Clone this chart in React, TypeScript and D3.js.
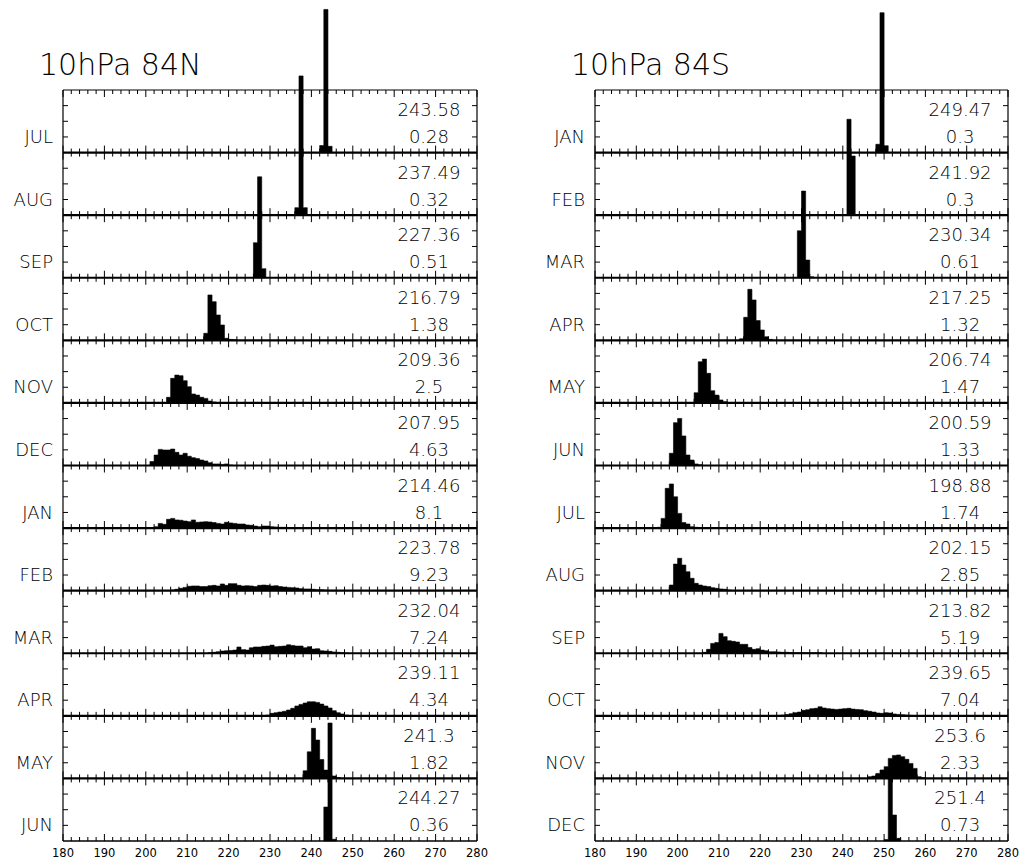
import React from "react";
import * as d3 from "d3";

// ---------------- DATA ----------------
const nhTitle = "10hPa 84N";
const shTitle = "10hPa 84S";
const nhMonths = ["JUL", "AUG", "SEP", "OCT", "NOV", "DEC", "JAN", "FEB", "MAR", "APR", "MAY", "JUN"];
const shMonths = ["JAN", "FEB", "MAR", "APR", "MAY", "JUN", "JUL", "AUG", "SEP", "OCT", "NOV", "DEC"];
const nhMeans = ["243.58", "237.49", "227.36", "216.79", "209.36", "207.95", "214.46", "223.78", "232.04", "239.11", "241.3", "244.27"];
const nhStds = ["0.28", "0.32", "0.51", "1.38", "2.5", "4.63", "8.1", "9.23", "7.24", "4.34", "1.82", "0.36"];
const shMeans = ["249.47", "241.92", "230.34", "217.25", "206.74", "200.59", "198.88", "202.15", "213.82", "239.65", "253.6", "251.4"];
const shStds = ["0.3", "0.3", "0.61", "1.32", "1.47", "1.33", "1.74", "2.85", "5.19", "7.04", "2.33", "0.73"];
const xTickLabels = [180, 190, 200, 210, 220, 230, 240, 250, 260, 270, 280];

// histograms: [first bin (K), frequencies in % for consecutive 1 K bins]
const nhHist: [number, number[]][] = [
  [242, [4.5, 91.5, 4]],
  [236, [4.8, 89, 4.8]],
  [226, [22.4, 64.5, 5.8]],
  [214, [4.5, 29, 24.7, 16.2, 9.8, 1.3, 0.6, 0.3]],
  [205, [3.6, 15.7, 17.8, 17.4, 14.2, 10.4, 5.7, 5, 3.6, 2.9, 1.2, 0.6, 0.3]],
  [201, [2.5, 6.7, 10.3, 9.9, 9.9, 10.5, 8.4, 6.7, 7.8, 5.9, 5, 4.4, 3.5, 2.9, 1.8, 1, 1, 0.7, 1, 0.3]],
  [202, [0.9, 3, 2.4, 5.6, 6.2, 5.2, 5, 4.5, 4.1, 5.2, 3.7, 3.9, 4.1, 3.9, 3.5, 3, 2.6, 3.7, 3.3, 3, 2.6, 2.6, 2, 1.8, 1.3, 0.9, 1.3, 1.3, 0.9, 0.7, 0.5, 0.5, 0.3, 0.3, 0.2, 0.2]],
  [206, [0.4, 0.9, 1.5, 2.1, 2.8, 3, 3, 2.6, 2.6, 3.2, 3.4, 3, 4.3, 3.4, 4.5, 4.5, 3.4, 3, 3.2, 3, 2.6, 3.4, 3.6, 3.4, 3, 3.2, 2.6, 2.3, 2.1, 1.9, 1.7, 1.3, 1.1, 1.1, 0.9, 0.6, 0.6, 0.4, 0.2, 0.2]],
  [215, [0.3, 0.6, 1, 1.4, 1.6, 1.8, 2, 4, 2.3, 2, 3.5, 4, 4, 4.4, 4.6, 5.2, 4.2, 4.4, 4.6, 5.4, 5, 4.6, 4.6, 3.5, 4.2, 2.7, 2.9, 1.6, 1.4, 1.2, 0.8, 0.6, 0.3, 0.1]],
  [229, [0.5, 1.6, 2, 2.4, 2.9, 3.7, 4.8, 6.3, 7.3, 8.2, 9, 9, 8.6, 7.5, 6.3, 5, 3.3, 2, 1.2, 0.5, 0.2]],
  [238, [4.9, 17, 32, 24.5, 12.1, 5.3, 2, 1.5, 0.6]],
  [243, [21.7, 75.4, 1.1]],
];
const shHist: [number, number[]][] = [
  [248, [5.3, 89.4, 4.4]],
  [241, [61.3, 37.8]],
  [229, [30, 55.4, 11.3, 0.6]],
  [215, [1, 14.7, 32.6, 25.8, 12.6, 6.6, 2.3, 0.6]],
  [204, [6.5, 26.3, 28, 18.9, 7.8, 5, 1.9, 0.8]],
  [198, [7.8, 27.4, 30.1, 18.9, 6.7, 3.5, 1, 0.5]],
  [195, [0.5, 6.2, 25.4, 28.2, 20, 9.4, 3.5, 2.6, 0.9, 0.5, 0.3]],
  [198, [3.6, 17, 20.7, 16.4, 12.1, 7.9, 4.7, 3.6, 3, 2.6, 1.9, 1.5, 1.1, 0.9, 0.4]],
  [206, [0.6, 2.5, 6.3, 6.9, 12.7, 10.6, 8, 7.6, 7.2, 5.7, 5.7, 3.7, 2.5, 2.9, 2, 1.6, 1, 1, 0.8, 0.6, 0.6, 0.4, 0.3, 0.3, 0.3, 0.3, 0.3, 0.3, 0.3]],
  [224, [0.3, 0.5, 0.9, 1.4, 2, 2.4, 3.5, 3.9, 4.6, 4.8, 5.8, 5, 4.6, 4.3, 4.1, 4.3, 4.6, 4.8, 4.3, 4.1, 3.9, 3.3, 2.9, 2.4, 1.8, 1.6, 2, 1.8, 1.2, 0.9, 0.7, 0.5, 0.3, 0.2]],
  [246, [1.1, 1.5, 3.2, 5.4, 7.5, 12.8, 14.7, 15, 13.9, 12.2, 9.6, 6.4, 1.1, 0.5]],
  [250, [1, 46, 16.6, 1.7]],
];

// ---------------- LAYOUT ----------------
const W = 1021;
const H = 861;
const TOP = 90;
const BOTTOM = 841;
const NP = 12;
const PH = (BOTTOM - TOP) / NP;
const FONT = "'DejaVu Sans', sans-serif";
const TXT = "#000";
const WEIGHT = 200;

type Col = {
  x0: number;
  x1: number;
  title: string;
  months: string[];
  means: string[];
  stds: string[];
  hist: [number, number[]][];
};

const cols: Col[] = [
  { x0: 63, x1: 477, title: nhTitle, months: nhMonths, means: nhMeans, stds: nhStds, hist: nhHist },
  { x0: 595, x1: 1008, title: shTitle, months: shMonths, means: shMeans, stds: shStds, hist: shHist },
];

function Column({ c }: { c: Col }) {
  const x = d3.scaleLinear().domain([180, 280]).range([c.x0, c.x1]);
  const ticks = d3.range(180, 281, 2);
  const panels = d3.range(NP);
  const cx = x(268.4);
  return (
    <g>
      <text x={c.x0 - 24} y={75} fontFamily={FONT} fontWeight={WEIGHT} fontSize={30} fill={TXT}>
        {c.title}
      </text>
      {/* histograms */}
      {panels.map((i) => {
        const top = TOP + i * PH;
        const bot = top + PH;
        const y = d3.scaleLinear().domain([0, 40]).range([bot, top]);
        const [start, vals] = c.hist[i];
        const pts: [number, number][] = vals.map((v, j) => [start + j, v] as [number, number]);
        pts.push([start + vals.length, 0]);
        const area = d3
          .area<[number, number]>()
          .x((d) => x(d[0]))
          .y0(bot)
          .y1((d) => y(d[1]))
          .curve(d3.curveStepAfter);
        return <path key={"b" + i} d={area(pts) || ""} fill="#000" stroke="#000" strokeWidth={0.6} />;
      })}
      {/* frames & ticks */}
      {panels.map((i) => {
        const top = TOP + i * PH;
        const bot = top + PH;
        return (
          <g key={"f" + i} stroke="#000" fill="none">
            {ticks.map((t) => {
              const major = t % 10 === 0;
              const L = major ? 7 : 4;
              return (
                <g key={t}>
                  <line x1={x(t)} x2={x(t)} y1={top} y2={top + L} strokeWidth={1} />
                  <line x1={x(t)} x2={x(t)} y1={bot} y2={bot - L} strokeWidth={1} />
                </g>
              );
            })}
            {[0.25, 0.5, 0.75].map((f) => (
              <g key={f}>
                <line x1={c.x0} x2={c.x0 + 5} y1={top + f * PH} y2={top + f * PH} strokeWidth={1} />
                <line x1={c.x1} x2={c.x1 - 5} y1={top + f * PH} y2={top + f * PH} strokeWidth={1} />
              </g>
            ))}
            <line x1={c.x0} x2={c.x1} y1={top} y2={top} strokeWidth={i === 0 ? 1.2 : 2.2} />
          </g>
        );
      })}
      <line x1={c.x0} x2={c.x1} y1={BOTTOM} y2={BOTTOM} stroke="#000" strokeWidth={1.5} />
      <line x1={c.x0} x2={c.x0} y1={TOP} y2={BOTTOM} stroke="#000" strokeWidth={1.2} />
      <line x1={c.x1} x2={c.x1} y1={TOP} y2={BOTTOM} stroke="#000" strokeWidth={1.2} />
      {/* texts */}
      {panels.map((i) => {
        const top = TOP + i * PH;
        return (
          <g key={"t" + i} fontFamily={FONT} fontWeight={WEIGHT} fontSize={18} fill={TXT}>
            <text x={c.x0 - 10} y={top + 53} textAnchor="end">
              {c.months[i]}
            </text>
            <text x={cx} y={top + 26} textAnchor="middle">
              {c.means[i]}
            </text>
            <text x={cx} y={top + 53} textAnchor="middle">
              {c.stds[i]}
            </text>
          </g>
        );
      })}
      {xTickLabels.map((t) => (
        <text key={t} x={x(t)} y={857} textAnchor="middle" fontFamily={FONT} fontSize={11.5} fill={TXT}>
          {t}
        </text>
      ))}
    </g>
  );
}

export default function App() {
  return (
    <svg
      width={W}
      height={H}
      viewBox={`0 0 ${W} ${H}`}
      style={{ position: "absolute", left: 0, top: 0, background: "#fff" }}
    >
      <rect x={0} y={0} width={W} height={H} fill="#fff" />
      {cols.map((c, k) => (
        <Column key={k} c={c} />
      ))}
    </svg>
  );
}
